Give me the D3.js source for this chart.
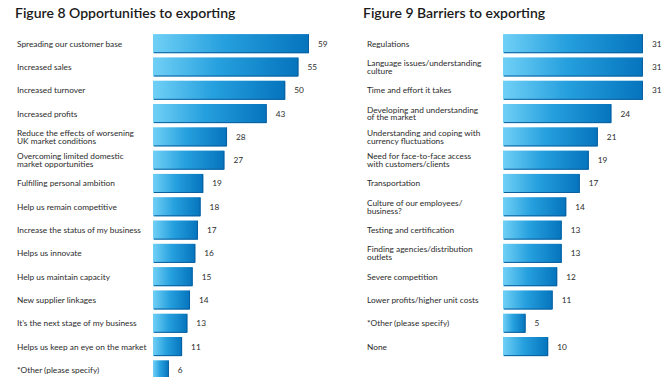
<!DOCTYPE html>
<html>
  <head>
    <meta charset="utf-8">
    <title>Opportunities and barriers to exporting</title>
    <script src="https://d3js.org/d3.v7.min.js"></script>
    <style>
      body { margin: 0; background: #fff; }
      svg { display: block; font-family: Lato, "Open Sans", sans-serif; }
      .title { font-size: 14px; font-weight: 600; fill: #1a1a1a; }
      .label { font-size: 8.3px; fill: #2b2b2b; }
      .value { font-size: 8.3px; fill: #2b2b2b; }
    </style>
  </head>
  <body>
    <div id="chart"></div>
    <script>
      // figure 8 data
      var oppLabels = [
        "Spreading our customer base",
        "Increased sales",
        "Increased turnover",
        "Increased profits",
        "Reduce the effects of worsening\nUK market conditions",
        "Overcoming limited domestic\nmarket opportunities",
        "Fulfilling personal ambition",
        "Help us remain competitive",
        "Increase the status of my business",
        "Helps us innovate",
        "Help us maintain capacity",
        "New supplier linkages",
        "It\u2019s the next stage of my business",
        "Helps us keep an eye on the market",
        "*Other (please specify)"
      ];
      var oppValues = [59, 55, 50, 43, 28, 27, 19, 18, 17, 16, 15, 14, 13, 11, 6];

      // figure 9 data
      var barLabels = [
        "Regulations",
        "Language issues/understanding\nculture",
        "Time and effort it takes",
        "Developing and understanding\nof the market",
        "Understanding and coping with\ncurrency fluctuations",
        "Need for face-to-face access\nwith customers/clients",
        "Transportation",
        "Culture of our employees/\nbusiness?",
        "Testing and certification",
        "Finding agencies/distribution\noutlets",
        "Severe competition",
        "Lower profits/higher unit costs",
        "*Other (please specify)",
        "None"
      ];
      var barValues = [31, 31, 31, 24, 21, 19, 17, 14, 13, 13, 12, 11, 5, 10];

      var width = 665, height = 377;
      var rowStep = 23.3, firstRow = 32;

      var svg = d3.select("#chart")
        .append("svg")
        .attr("width", width)
        .attr("height", height);

      // shared bar gradient
      var grad = svg.append("defs")
        .append("linearGradient")
          .attr("id", "barGrad")
          .attr("x1", "0%").attr("x2", "100%")
          .attr("y1", "0%").attr("y2", "0%");
      grad.append("stop").attr("offset", "0%").attr("stop-color", "#70d0f6");
      grad.append("stop").attr("offset", "45%").attr("stop-color", "#26a0de");
      grad.append("stop").attr("offset", "100%").attr("stop-color", "#0574bd");

      drawPanel({
        title: "Figure 8 Opportunities to exporting",
        titleX: 15,
        labelX: 17,
        barX: 153,
        barMax: 156,
        labels: oppLabels,
        values: oppValues
      });
      drawPanel({
        title: "Figure 9 Barriers to exporting",
        titleX: 363,
        labelX: 367,
        barX: 503,
        barMax: 140,
        labels: barLabels,
        values: barValues
      });

      function drawPanel(p) {
        var g = svg.append("g");
        g.append("text")
          .attr("class", "title")
          .attr("x", p.titleX)
          .attr("y", 18)
          .text(p.title);

        var idx = d3.range(p.values.length);
        var y = d3.scaleBand()
          .domain(idx)
          .range([firstRow, firstRow + idx.length * rowStep])
          .paddingInner(0.18)
          .paddingOuter(0.09);
        var x = d3.scaleLinear()
          .domain([0, d3.max(p.values)])
          .range([0, p.barMax]);

        var rows = g.selectAll(".row")
          .data(idx)
          .enter().append("g")
            .attr("class", "row")
            .attr("transform", function(i) { return "translate(0," + y(i) + ")"; });

        rows.append("rect")
          .attr("x", p.barX)
          .attr("y", 0)
          .attr("width", function(i) { return x(p.values[i]); })
          .attr("height", y.bandwidth())
          .attr("fill", "url(#barGrad)");
        // darker bottom/right edge
        rows.append("path")
          .attr("d", function(i) {
            var w = x(p.values[i]), h = y.bandwidth();
            return "M" + (p.barX + 1) + "," + (h - 0.5) + "H" + (p.barX + w - 0.5) + "V0.5";
          })
          .attr("fill", "none")
          .attr("stroke", "#0a5f9e")
          .attr("stroke-width", 1);

        rows.append("text")
          .attr("class", "value")
          .attr("x", function(i) { return p.barX + x(p.values[i]) + 9; })
          .attr("y", y.bandwidth() / 2 + 3)
          .text(function(i) { return p.values[i]; });

        var lab = rows.append("text")
          .attr("class", "label")
          .attr("x", p.labelX);
        lab.each(function(i) {
          var lines = p.labels[i].split("\n");
          var t = d3.select(this);
          var y0 = lines.length === 1 ? y.bandwidth() / 2 + 3 : y.bandwidth() / 2 - 1;
          lines.forEach(function(line, k) {
            t.append("tspan")
              .attr("x", p.labelX)
              .attr("y", y0 + k * 7.8)
              .text(line);
          });
        });
      }
    </script>
  </body>
</html>
